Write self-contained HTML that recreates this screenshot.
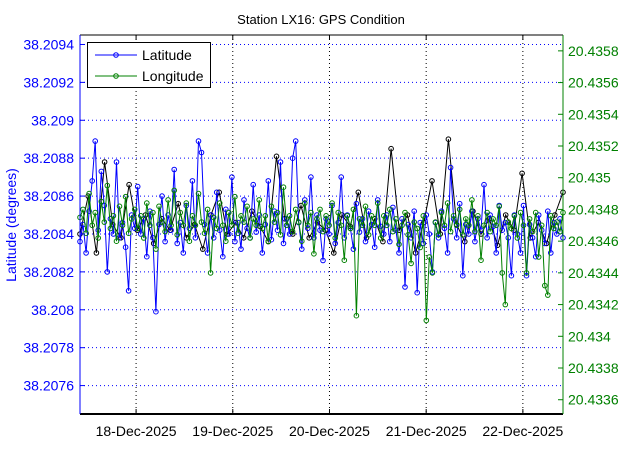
<!DOCTYPE html>
<html><head><meta charset="utf-8"><style>
html,body{margin:0;padding:0;background:#fff;}
svg{display:block;font-family:"Liberation Sans",sans-serif;}
</style></head><body>
<svg id="chart" width="623" height="466"></svg>
<script>
const title = "Station LX16: GPS Condition";
const startDay = 17.42;   // day-of-December at first sample
const endDay = 22.415;    // day-of-December at last sample
const xTickDays = [18,19,20,21,22];
const xTickLabels = ["18-Dec-2025","19-Dec-2025","20-Dec-2025","21-Dec-2025","22-Dec-2025"];
const leftTicks = [38.2076,38.2078,38.208,38.2082,38.2084,38.2086,38.2088,38.209,38.2092,38.2094];
const leftTickLabels = ["38.2076","38.2078","38.208","38.2082","38.2084","38.2086","38.2088","38.209","38.2092","38.2094"];
const rightTicks = [20.4336,20.4338,20.434,20.4342,20.4344,20.4346,20.4348,20.435,20.4352,20.4354,20.4356,20.4358];
const rightTickLabels = ["20.4336","20.4338","20.434","20.4342","20.4344","20.4346","20.4348","20.435","20.4352","20.4354","20.4356","20.4358"];
const latitude = [38.20836,38.20845,38.20830,38.20852,38.20868,38.20889,38.20842,38.20873,38.20855,38.20820,38.20848,38.20840,38.20878,38.20838,38.20846,38.20833,38.20810,38.20850,38.20843,38.20865,
38.20840,38.20848,38.20828,38.20852,38.20838,38.20799,38.20845,38.20860,38.20836,38.20850,38.20842,38.20874,38.20835,38.20846,38.20830,38.20855,38.20843,38.20868,38.20838,38.20889,
38.20883,38.20845,38.20830,38.20850,38.20838,38.20862,38.20842,38.20828,38.20853,38.20840,38.20870,38.20836,38.20846,38.20832,38.20858,38.20843,38.20838,38.20866,38.20841,38.20850,
38.20830,38.20845,38.20868,38.20837,38.20852,38.20842,38.20878,38.20835,38.20848,38.20840,38.20880,38.20889,38.20846,38.20832,38.20858,38.20843,38.20870,38.20838,38.20850,38.20842,
38.20826,38.20848,38.20840,38.20855,38.20835,38.20846,38.20870,38.20838,38.20850,38.20843,38.20832,38.20856,38.20841,38.20848,38.20836,38.20852,38.20845,38.20833,38.20858,38.20844,
38.20840,38.20850,38.20836,38.20854,38.20842,38.20830,38.20848,38.20812,38.20845,38.20838,38.20852,38.20809,38.20846,38.20835,38.20850,38.20840,38.20820,38.20846,38.20838,38.20852,
38.20843,38.20830,38.20875,38.20848,38.20838,38.20856,38.20818,38.20845,38.20840,38.20852,38.20836,38.20848,38.20842,38.20866,38.20838,38.20850,38.20844,38.20830,38.20855,38.20842,
38.20846,38.20838,38.20818,38.20850,38.20840,38.20830,38.20855,38.20818,38.20845,38.20838,38.20828,38.20850,38.20842,38.20835,38.20852,38.20830,38.20846,38.20840,38.20848,38.20838];
const longitude = [20.43475,20.43480,20.43465,20.43490,20.43470,20.43478,20.43462,20.43485,20.43472,20.43495,20.43468,20.43476,20.43460,20.43482,20.43470,20.43488,20.43465,20.43474,20.43480,20.43468,
20.43476,20.43462,20.43484,20.43470,20.43478,20.43455,20.43482,20.43472,20.43466,20.43486,20.43470,20.43492,20.43464,20.43478,20.43470,20.43484,20.43460,20.43476,20.43470,20.43490,
20.43472,20.43465,20.43480,20.43440,20.43475,20.43468,20.43484,20.43470,20.43460,20.43478,20.43470,20.43488,20.43465,20.43476,20.43472,20.43482,20.43462,20.43474,20.43470,20.43486,
20.43468,20.43476,20.43460,20.43482,20.43472,20.43478,20.43464,20.43494,20.43470,20.43476,20.43466,20.43480,20.43472,20.43460,20.43484,20.43470,20.43478,20.43452,20.43474,20.43480,
20.43466,20.43476,20.43470,20.43484,20.43462,20.43478,20.43470,20.43448,20.43476,20.43468,20.43480,20.43413,20.43474,20.43470,20.43482,20.43464,20.43476,20.43470,20.43484,20.43462,
20.43476,20.43470,20.43480,20.43466,20.43474,20.43458,20.43470,20.43478,20.43464,20.43446,20.43472,20.43468,20.43456,20.43476,20.43410,20.43450,20.43440,20.43472,20.43464,20.43478,
20.43470,20.43484,20.43466,20.43476,20.43470,20.43480,20.43464,20.43474,20.43470,20.43486,20.43466,20.43476,20.43448,20.43470,20.43478,20.43466,20.43474,20.43470,20.43482,20.43440,
20.43420,20.43472,20.43468,20.43476,20.43462,20.43478,20.43470,20.43440,20.43474,20.43466,20.43478,20.43450,20.43470,20.43432,20.43426,20.43476,20.43468,20.43472,20.43466,20.43478];
const auxSeries = [38.20840,38.20860,38.20830,38.20878,38.20845,38.20838,38.20866,38.20842,38.20850,38.20835,38.20848,38.20842,38.20856,38.20838,38.20845,38.20832,38.20850,38.20862,38.20840,38.20846,
38.20838,38.20852,38.20844,38.20836,38.20881,38.20848,38.20840,38.20855,38.20838,38.20846,38.20842,38.20830,38.20850,38.20844,38.20862,38.20838,38.20848,38.20836,38.20885,38.20842,
38.20850,38.20830,38.20846,38.20868,38.20840,38.20890,38.20845,38.20836,38.20852,38.20840,38.20848,38.20834,38.20850,38.20842,38.20872,38.20838,38.20846,38.20835,38.20850,38.20862];

const NS="http://www.w3.org/2000/svg";
const svg=document.getElementById('chart');
const L=80,R=563,T=35,B=414;
const latMin=38.20745, latMax=38.20945, lonMin=20.43351, lonMax=20.4359;
const xS=d=>L+(d-startDay)/(endDay-startDay)*(R-L);
const yL=v=>B-(v-latMin)/(latMax-latMin)*(B-T);
const yR=v=>B-(v-lonMin)/(lonMax-lonMin)*(B-T);
function mk(tag,attrs,parent){const e=document.createElementNS(NS,tag);for(const k in attrs)e.setAttribute(k,attrs[k]);(parent||svg).appendChild(e);return e;}

// title
const t=mk('text',{x:321,y:24,'text-anchor':'middle','font-size':13,fill:'#000'});t.textContent=title;



// grid
const grid=mk('g',{});


leftTicks.forEach(v=>{const y=yL(v);if(y>T&&y<B){mk('line',{x1:L,x2:R,y1:y,y2:y,stroke:'#0000ff','stroke-width':1,'stroke-dasharray':'1,3'},grid);}});
xTickDays.forEach(d=>{const x=xS(d);mk('line',{x1:x,x2:x,y1:T,y2:B,stroke:'#000','stroke-width':1,'stroke-dasharray':'1,3'},grid);});

// series
const plot=mk('g',{});


function series(vals,yf,color,name){
  const g=mk('g',{},plot);
  
  
  const n=vals.length;
  const pts=vals.map((v,i)=>[xS(startDay+i*(endDay-startDay)/(n-1)),yf(v)]);
  mk('polyline',{points:pts.map(p=>p[0].toFixed(1)+','+p[1].toFixed(1)).join(' '),fill:'none',stroke:color,'stroke-width':1},g);
  pts.forEach(p=>{mk('circle',{cx:p[0].toFixed(1),cy:p[1].toFixed(1),r:2.3,fill:'none',stroke:color,'stroke-width':1},g);});
}
series(auxSeries,yL,'#000','series-black');
series(latitude,yL,'#0000ff','series-latitude');
series(longitude,yR,'#008000','series-longitude');

// axes
const ax=mk('g',{});


mk('line',{x1:L,x2:R,y1:T,y2:T,stroke:'#000','stroke-width':1},ax);
mk('line',{x1:L,x2:R,y1:B,y2:B,stroke:'#000','stroke-width':2},ax);
mk('line',{x1:L,x2:L,y1:T,y2:B,stroke:'#0000ff','stroke-width':1},ax);
mk('line',{x1:R,x2:R,y1:T,y2:B,stroke:'#008000','stroke-width':1},ax);
leftTicks.forEach((v,i)=>{const y=yL(v);if(y<T||y>B)return;mk('line',{x1:L,x2:L+5,y1:y,y2:y,stroke:'#0000ff'},ax);
  const tx=mk('text',{x:L-6,y:y+5,'text-anchor':'end','font-size':14,fill:'#0000ff'},ax);tx.textContent=leftTickLabels[i];});
rightTicks.forEach((v,i)=>{const y=yR(v);if(y<T||y>B)return;mk('line',{x1:R-5,x2:R,y1:y,y2:y,stroke:'#008000'},ax);
  const tx=mk('text',{x:R+5,y:y+5,'text-anchor':'start','font-size':14,fill:'#008000'},ax);tx.textContent=rightTickLabels[i];});
xTickDays.forEach((d,i)=>{const x=xS(d);mk('line',{x1:x,x2:x,y1:B-5,y2:B,stroke:'#000'},ax);mk('line',{x1:x,x2:x,y1:T,y2:T+5,stroke:'#000'},ax);
  const tx=mk('text',{x:x,y:436,'text-anchor':'middle','font-size':14,fill:'#000'},ax);tx.textContent=xTickLabels[i];});
const yl=mk('text',{x:0,y:0,transform:'translate(16,225) rotate(-90)','text-anchor':'middle','font-size':14,fill:'#0000ff'});
yl.textContent='Latitude (degrees)';



// legend
const lg=mk('g',{});


mk('rect',{x:87.5,y:42.5,width:123,height:45,fill:'#fff',stroke:'#000'},lg);
[['Latitude','#0000ff',55],['Longitude','#008000',76]].forEach(([n,c,y])=>{
  const e=mk('g',{},lg);
  
  
  mk('line',{x1:95,x2:137,y1:y,y2:y,stroke:c},e);
  mk('circle',{cx:116,cy:y,r:2.3,fill:'none',stroke:c},e);
  const tx=mk('text',{x:142,y:y+5,'font-size':14,fill:'#000'},e);tx.textContent=n;
});
</script>
</body></html>
